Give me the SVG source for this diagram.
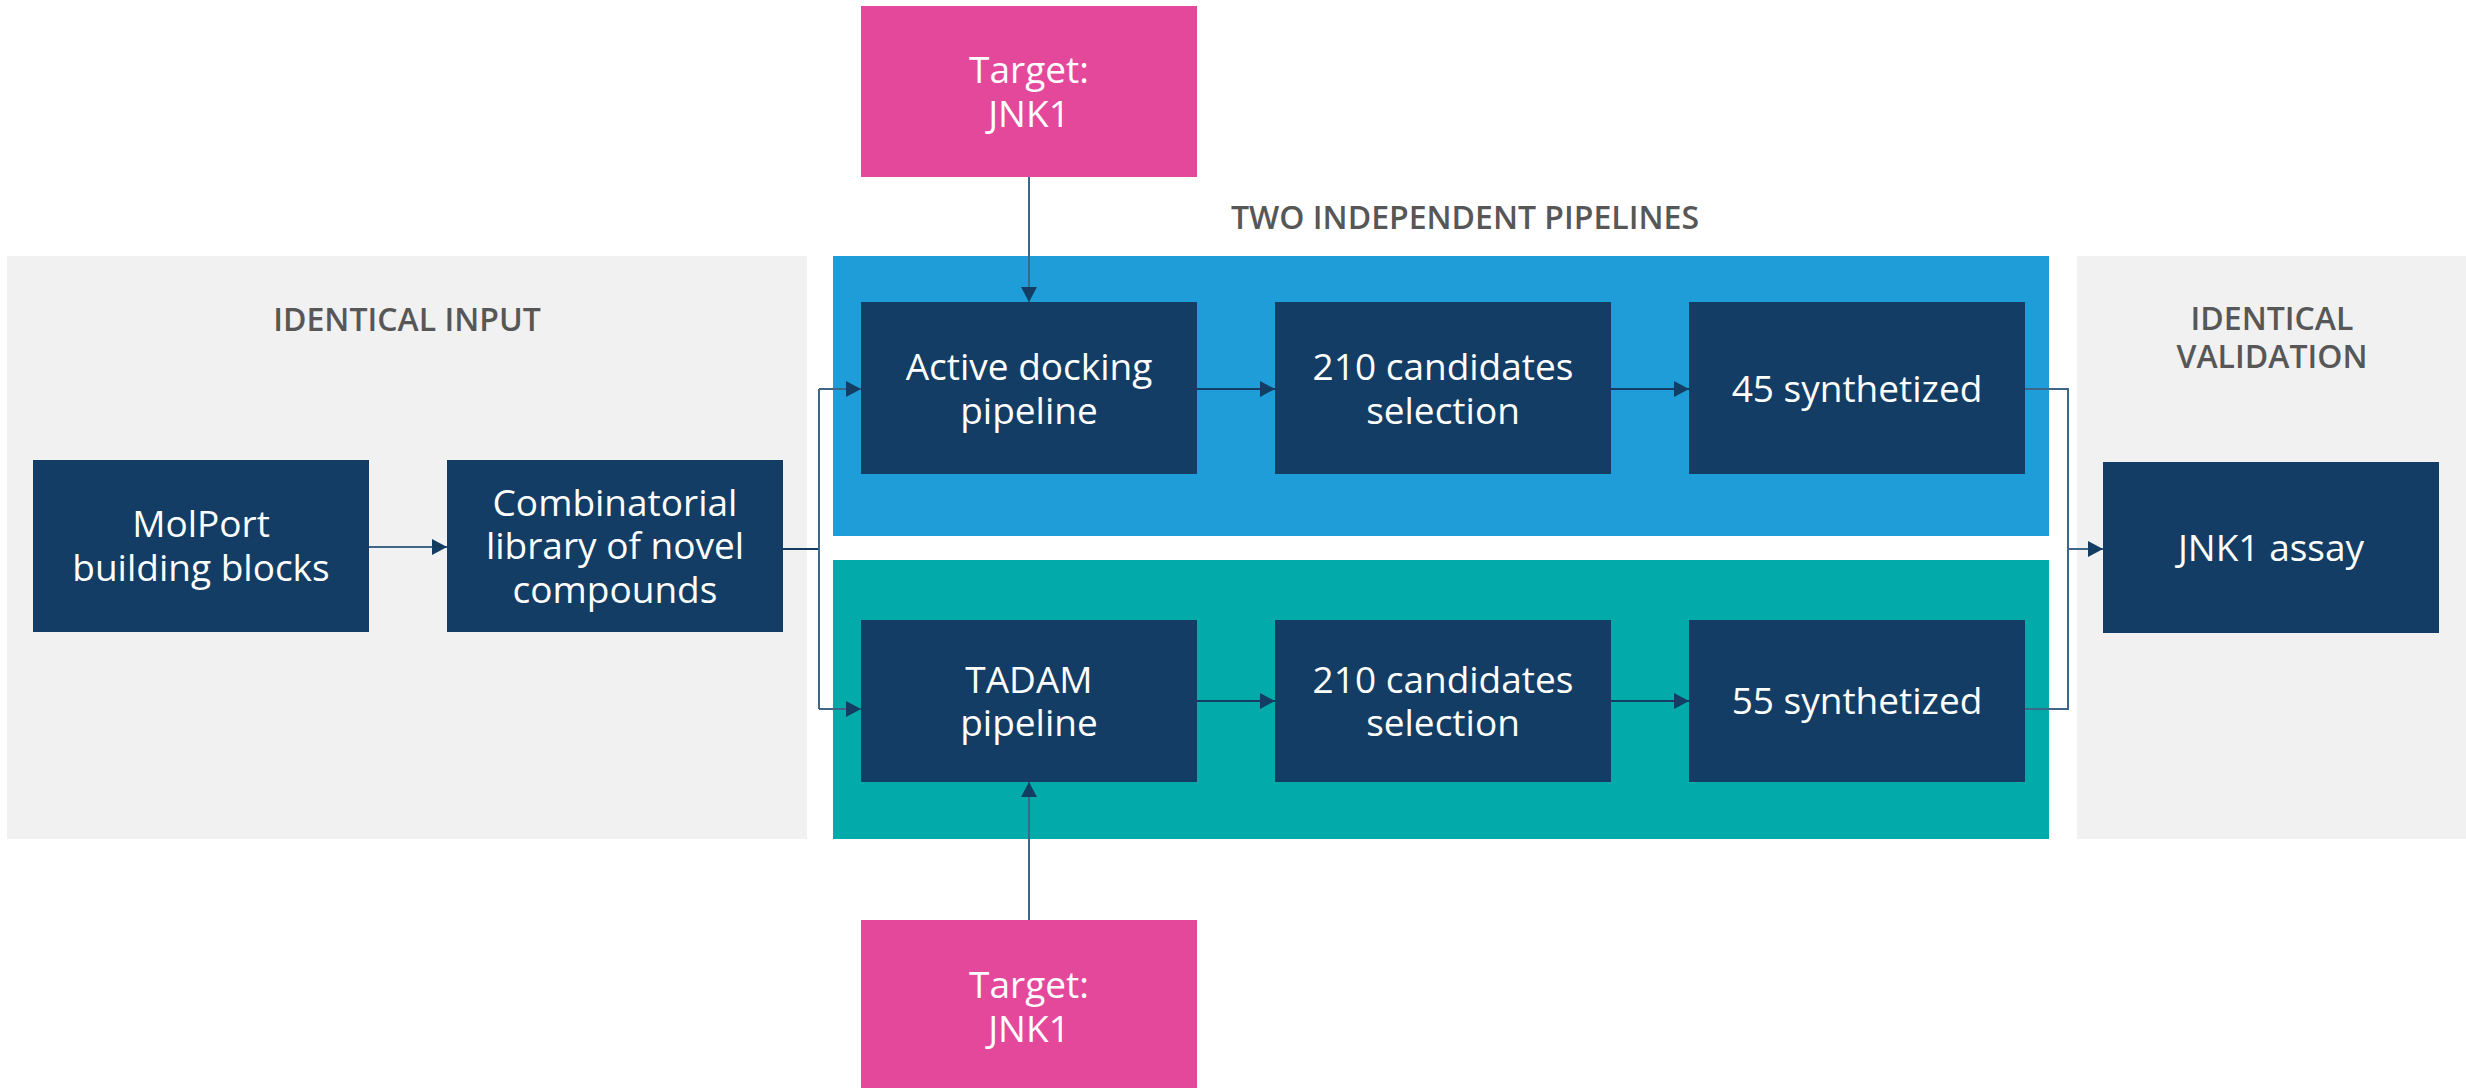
<svg xmlns="http://www.w3.org/2000/svg" width="2466" height="1088" viewBox="0 0 2466 1088">
  <defs>
    <marker id="arrow" markerUnits="userSpaceOnUse" markerWidth="16" markerHeight="16" refX="15" refY="8" orient="auto">
      <path d="M0,0 L15,8 L0,16 Z" fill="#133d63"/>
    </marker>
    <style>
      .panel-grey { fill: #f1f1f1; }
      .panel-blue { fill: #1e9dd8; }
      .panel-teal { fill: #02aaa9; }
      .box { fill: #133d64; }
      .target { fill: #e4489a; }
      .label { font-family: "Open Sans", "Noto Sans", "Liberation Sans", sans-serif; font-size: 37px; fill: #ffffff; text-anchor: middle; }
      .heading { font-family: "Open Sans", "Noto Sans", "Liberation Sans", sans-serif; font-size: 32px; font-weight: 600; fill: #575757; text-anchor: middle; }
      .link { fill: none; stroke: #3d6689; stroke-width: 2; }
      .link-dark { fill: none; stroke: #133d63; stroke-width: 2; }
    </style>
  </defs>

  <rect width="2466" height="1088" fill="#ffffff"/>

  <!-- stage backgrounds -->
  <g id="stage-input">
    <rect class="panel-grey" x="7" y="256" width="800" height="583"/>
    <text class="heading" x="407" y="331">IDENTICAL INPUT</text>
  </g>
  <g id="stage-pipelines">
    <text class="heading" x="1465" y="229">TWO INDEPENDENT PIPELINES</text>
    <rect id="lane-docking" class="panel-blue" x="833" y="256" width="1216" height="280"/>
    <rect id="lane-tadam" class="panel-teal" x="833" y="560" width="1216" height="279"/>
  </g>
  <g id="stage-validation">
    <rect class="panel-grey" x="2077" y="256" width="389" height="583"/>
    <text class="heading" x="2272" y="330">IDENTICAL<tspan x="2272" y="368">VALIDATION</tspan></text>
  </g>

  <!-- connectors -->
  <g id="connectors">
    <line class="link" x1="369" y1="547" x2="447" y2="547" marker-end="url(#arrow)"/>
    <polyline class="link-dark" points="783,549 819,549"/>
    <polyline class="link" points="819,389 819,709"/>
    <line class="link" x1="819" y1="389" x2="861" y2="389" marker-end="url(#arrow)"/>
    <line class="link" x1="819" y1="709" x2="861" y2="709" marker-end="url(#arrow)"/>

    <line class="link" x1="1029" y1="177" x2="1029" y2="302" marker-end="url(#arrow)"/>
    <line class="link" x1="1029" y1="920" x2="1029" y2="782" marker-end="url(#arrow)"/>

    <line class="link-dark" x1="1197" y1="389" x2="1275" y2="389" marker-end="url(#arrow)"/>
    <line class="link-dark" x1="1611" y1="389" x2="1689" y2="389" marker-end="url(#arrow)"/>
    <line class="link-dark" x1="1197" y1="701" x2="1275" y2="701" marker-end="url(#arrow)"/>
    <line class="link-dark" x1="1611" y1="701" x2="1689" y2="701" marker-end="url(#arrow)"/>

    <polyline class="link" points="2025,389 2068,389 2068,709 2025,709"/>
    <line class="link" x1="2068" y1="549" x2="2103" y2="549" marker-end="url(#arrow)"/>
  </g>

  <!-- nodes -->
  <g id="molport">
    <rect class="box" x="33" y="460" width="336" height="172"/>
    <text class="label" x="201" y="537">MolPort<tspan x="201" y="581">building blocks</tspan></text>
  </g>
  <g id="combinatorial-library">
    <rect class="box" x="447" y="460" width="336" height="172"/>
    <text class="label" x="615" y="516">Combinatorial<tspan x="615" y="559">library of novel</tspan><tspan x="615" y="603">compounds</tspan></text>
  </g>

  <g id="target-top">
    <rect class="target" x="861" y="6" width="336" height="171"/>
    <text class="label" x="1029" y="83">Target:<tspan x="1029" y="127">JNK1</tspan></text>
  </g>
  <g id="target-bottom">
    <rect class="target" x="861" y="920" width="336" height="172"/>
    <text class="label" x="1029" y="998">Target:<tspan x="1029" y="1042">JNK1</tspan></text>
  </g>

  <g id="active-docking">
    <rect class="box" x="861" y="302" width="336" height="172"/>
    <text class="label" x="1029" y="380">Active docking<tspan x="1029" y="424">pipeline</tspan></text>
  </g>
  <g id="docking-selection">
    <rect class="box" x="1275" y="302" width="336" height="172"/>
    <text class="label" x="1443" y="380">210 candidates<tspan x="1443" y="424">selection</tspan></text>
  </g>
  <g id="docking-synthetized">
    <rect class="box" x="1689" y="302" width="336" height="172"/>
    <text class="label" x="1857" y="402">45 synthetized</text>
  </g>

  <g id="tadam">
    <rect class="box" x="861" y="620" width="336" height="162"/>
    <text class="label" x="1029" y="693">TADAM<tspan x="1029" y="736">pipeline</tspan></text>
  </g>
  <g id="tadam-selection">
    <rect class="box" x="1275" y="620" width="336" height="162"/>
    <text class="label" x="1443" y="693">210 candidates<tspan x="1443" y="736">selection</tspan></text>
  </g>
  <g id="tadam-synthetized">
    <rect class="box" x="1689" y="620" width="336" height="162"/>
    <text class="label" x="1857" y="714">55 synthetized</text>
  </g>

  <g id="jnk1-assay">
    <rect class="box" x="2103" y="462" width="336" height="171"/>
    <text class="label" x="2271" y="561">JNK1 assay</text>
  </g>
</svg>
